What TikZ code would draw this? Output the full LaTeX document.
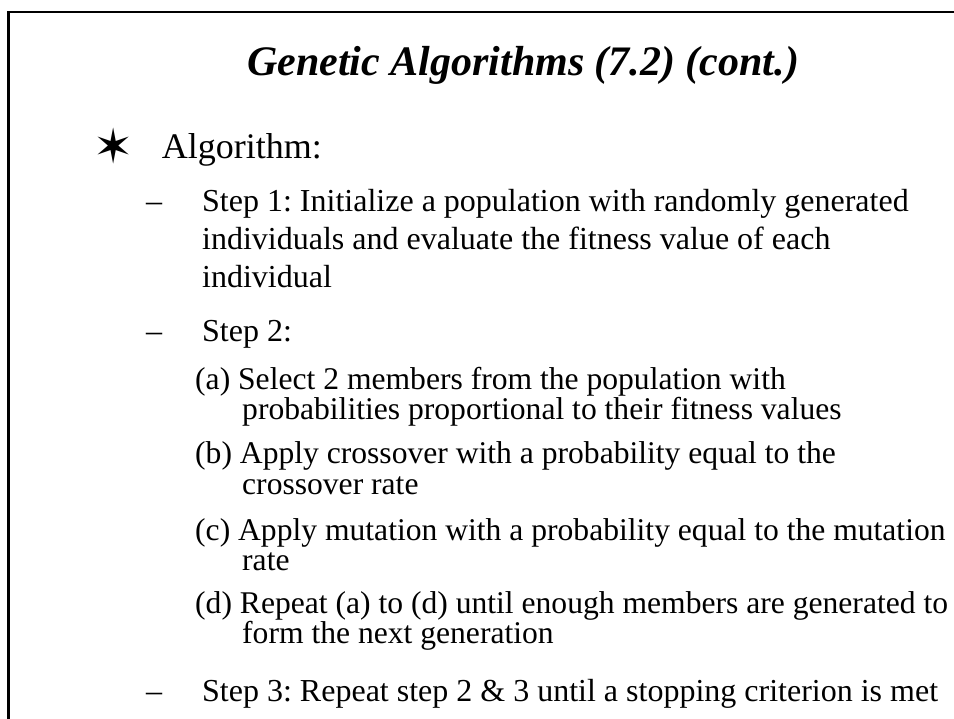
\documentclass[tikz,border=0pt]{standalone}
\usepackage{fontspec}
\setmainfont{Liberation Serif}
\newfontfamily\symfont{DejaVu Sans}
\frenchspacing
\tikzset{
	titletext/.style={anchor=base west, inner sep=0pt, font=\fontsize{42}{46}\selectfont\bfseries\itshape},
	headtext/.style={anchor=base west, inner sep=0pt, font=\fontsize{36}{40}\selectfont},
	stepline/.style={anchor=base west, inner sep=0pt, font=\fontsize{32}{36}\selectfont},
	subline/.style={anchor=base west, inner sep=0pt, font=\fontsize{31.6}{35}\selectfont},
}
\begin{document}
\begin{tikzpicture}[x=1pt,y=-1pt]
		\useasboundingbox (0,0) rectangle (954,719);
		\draw[line width=2.5pt] (8.5,719) -- (8.5,12) -- (954,12);
		\node[titletext] (title) at (247,76){Genetic Algorithms (7.2) (cont.)};
		\node[inner sep=0pt, font=\symfont\fontsize{48}{50}\selectfont] (star) at (114,146){✶};
		\node[headtext] (algo) at (161.7,159){Algorithm:};
		\foreach \y/\n in {212/1,342/2,701/3} \node[stepline] (dash\n) at (146,\y){–};
		\node[stepline] (stepa) at (202,212){Step 1: Initialize a population with randomly generated};
		\node[stepline] (stepb) at (202,250){individuals and evaluate the fitness value of each};
		\node[stepline] (stepc) at (202,288){individual};
		\node[stepline] (steptwo) at (202,342){Step 2:};
		\node[subline] (suba) at (195,390){(a) Select 2 members from the population with};
		\node[subline] (subaa) at (242,420){probabilities proportional to their fitness values};
		\node[subline] (subb) at (195,464){(b) Apply crossover with a probability equal to the};
		\node[subline] (subbb) at (242,494){crossover rate};
		\node[subline] (subc) at (195,540){(c) Apply mutation with a probability equal to the mutation};
		\node[subline] (subcc) at (242,570){rate};
		\node[subline] (subd) at (195,613){(d) Repeat (a) to (d) until enough members are generated to};
		\node[subline] (subdd) at (242,643){form the next generation};
		\node[stepline] (stepthree) at (202,701){Step 3: Repeat step 2 \& 3 until a stopping criterion is met};
\end{tikzpicture}
\end{document}
